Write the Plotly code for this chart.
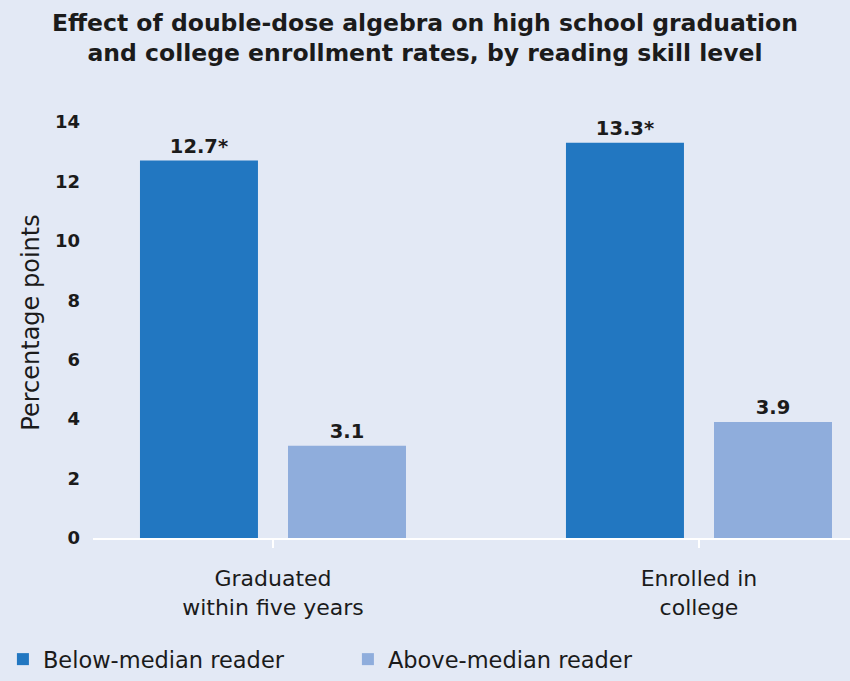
import plotly.graph_objects as go

# Data
categories = ["Graduated<br>within five years", "Enrolled in<br>college"]
below_median = [12.7, 13.3]
above_median = [3.1, 3.9]
below_labels = ["12.7*", "13.3*"]
above_labels = ["3.1", "3.9"]
y_ticks = [0, 2, 4, 6, 8, 10, 12, 14]

BG = "#E3E9F5"
DARK = "#2277C1"
LIGHT = "#8FADDC"
INK = "#1b1b1b"
FONT = "DejaVu Sans"

fig = go.Figure()
fig.add_trace(go.Bar(
    name="Below-median reader", x=categories, y=below_median,
    marker=dict(color=DARK, line=dict(width=0)),
    text=below_labels, textposition="outside", cliponaxis=False,
    textfont=dict(family=FONT, size=19.5, color=INK, weight="bold"),
))
fig.add_trace(go.Bar(
    name="Above-median reader", x=categories, y=above_median,
    marker=dict(color=LIGHT, line=dict(width=0)),
    text=above_labels, textposition="outside", cliponaxis=False,
    textfont=dict(family=FONT, size=19.5, color=INK, weight="bold"),
))

fig.update_layout(
    width=850, height=681,
    paper_bgcolor=BG, plot_bgcolor=BG,
    margin=dict(l=93, r=0, t=107, b=143),
    barmode="group", bargap=0.305, bargroupgap=0.203,
    font=dict(family=FONT, color=INK),
    title=dict(
        text="Effect of double-dose algebra on high school graduation<br>and college enrollment rates, by reading skill level",
        x=0.5, xanchor="center", y=0.955, yanchor="top",
        font=dict(family=FONT, size=23.5, color=INK, weight="bold"),
    ),
    showlegend=True,
    legend=dict(
        orientation="h", x=-0.119, xanchor="left",
        y=-0.3318, yanchor="bottom",
        font=dict(family=FONT, size=22.5, color=INK),
        bgcolor="rgba(0,0,0,0)", traceorder="normal",
        entrywidth=300, entrywidthmode="pixels",
    ),
)

fig.update_xaxes(
    type="category", range=[-0.4225, 1.3545],
    showline=True, linecolor="white", linewidth=2,
    ticks="outside", tickcolor="white", tickwidth=2, ticklen=8,
    ticklabelstandoff=12,
    showgrid=False, zeroline=False,
    tickfont=dict(family=FONT, size=22, color=INK),
)
fig.update_yaxes(
    range=[0, 14.5], tickvals=y_ticks,
    showgrid=False, zeroline=False, showline=False, ticks="",
    ticklabelstandoff=12,
    tickfont=dict(family=FONT, size=18, color=INK, weight="bold"),
    title=dict(text="Percentage points", standoff=8,
               font=dict(family=FONT, size=24, color=INK)),
)

fig.write_html("out.html")
